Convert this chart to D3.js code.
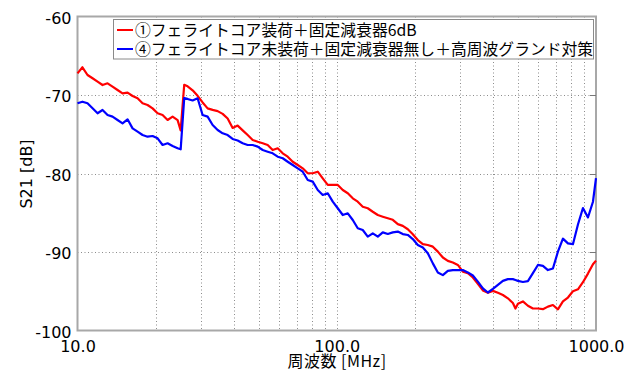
<!DOCTYPE html>
<html><head><meta charset="utf-8">
<script src="https://cdn.jsdelivr.net/npm/d3@7/dist/d3.min.js"></script>
<style>body{margin:0;background:#fff}svg{display:block}</style>
</head><body>
<svg id="chart" width="638" height="371"></svg>
<script>
// ---- data ----
// frequency [MHz]
const freq = [10.0,10.45,10.93,11.43,11.95,12.49,13.06,13.65,14.27,14.92,15.60,16.31,17.05,17.82,18.63,19.48,20.37,21.29,22.26,23.27,24.33,
  25.0,25.8,
  26.59,27.80,29.06,30.38,31.76,33.21,34.72,36.30,37.95,
  39.67,41.47,43.36,45.33,47.39,49.55,51.80,54.15,56.61,59.19,
  61.88,64.69,67.63,70.71,73.92,77.28,80.79,84.47,88.30,92.32,
  96.52,100.9,105.5,110.3,115.3,120.5,126.0,131.7,137.7,144.0,
  150.5,157.4,164.5,172.0,179.8,188.0,196.5,205.4,214.8,224.5,
  234.8,245.4,256.6,268.2,280.4,293.2,306.5,320.4,335.0,350.2,
  366.1,382.8,400.2,418.4,437.4,457.2,478.0,
  489.0,
  499.8,522.5,546.2,571.0,597.0,624.1,652.5,682.1,
  713.1,745.5,779.4,814.8,851.9,890.6,931.1,973.4,
  1000];
// ① S21 [dB]
const series1 = [-67.24,-66.47,-67.45,-67.87,-68.30,-68.73,-68.51,-68.94,-69.36,-69.79,-69.70,-70.13,-70.42,-71.06,-71.27,-71.70,-72.33,-72.55,-73.18,-72.76,-73.2,
  -74.5,-68.7,
  -68.9,-69.4,-70.1,-70.95,-71.7,-71.9,-72.05,-72.4,-73.0,
  -74.2,-73.9,-74.5,-75.1,-75.73,-75.95,-76.15,-76.37,-77.01,-76.79,
  -77.43,-77.86,-78.5,-78.92,-79.34,-79.97,-79.97,-79.77,-80.61,-81.46,
  -81.46,-81.46,-82.1,-82.52,-83.16,-83.59,-84.23,-84.43,-84.87,-85.29,
  -85.5,-85.7,-85.9,-86.45,-86.67,-87.1,-87.73,-88.48,-89.0,-89.11,
  -89.32,-89.95,-90.7,-91.13,-91.34,-91.65,-92.5,-92.71,-93.25,-94.05,
  -94.9,-95.2,-94.95,-95.2,-95.48,-95.9,-96.5,
  -97.2,
  -96.6,-96.3,-96.85,-97.2,-97.2,-97.28,-96.96,-96.75,
  -97.3,-96.3,-95.8,-95.0,-94.75,-93.85,-92.75,-91.55,
  -91.1];
// ④ S21 [dB]
const series2 = [-71.06,-70.85,-71.06,-71.70,-72.33,-71.91,-72.55,-72.76,-73.18,-73.61,-73.10,-74.25,-74.67,-75.10,-75.31,-75.22,-75.52,-76.37,-76.15,-76.50,-76.79,
  -76.92,-70.4,
  -70.5,-70.7,-70.42,-72.55,-72.76,-73.82,-74.46,-74.88,-75.10,
  -75.6,-75.8,-76.15,-76.37,-76.37,-76.58,-77.01,-77.22,-77.43,-77.86,
  -78.06,-78.5,-78.92,-79.34,-79.77,-80.83,-81.04,-82.1,-82.74,-82.52,
  -83.59,-84.43,-85.29,-85.07,-85.92,-86.98,-87.2,-88.05,-87.62,-88.05,
  -87.5,-87.7,-87.5,-87.4,-87.72,-87.83,-88.35,-89.1,-89.42,-90.15,
  -91.45,-92.6,-92.95,-92.4,-92.3,-92.3,-92.3,-92.6,-93.0,-93.78,
  -94.63,-95.16,-94.7,-94.2,-93.68,-93.46,-93.46,
  -93.57,
  -93.68,-93.82,-93.72,-92.7,-91.65,-91.76,-92.3,-92.1,
  -89.96,-88.3,-88.9,-89.0,-86.5,-84.4,-85.6,-83.6,
  -80.6];
const seriesNames = ["①フェライトコア装荷＋固定減衰器6dB","④フェライトコア未装荷＋固定減衰器無し＋高周波グランド対策"];
const seriesColors = ["#ff0000","#0000ff"];
const yTicks = [-100,-90,-80,-70,-60];
const xTicks = [10,100,1000];
const xTickLabels = ["10.0","100.0","1000.0"];
const xGrid = [20,30,40,50,60,70,80,90,100,200,300,400,500,600,700,800,900];
const yGrid = [-90,-80,-70];
const xLabel = "周波数 [MHz]";
const yLabel = "S21 [dB]";

// ---- drawing ----
const svg = d3.select("#chart");
const L=77.5, R=596, T=16.5, B=330.5;
const x = d3.scaleLog().domain([10,1000]).range([L,R]);
const y = d3.scaleLinear().domain([-100,-60]).range([B,T]);

const grid = svg.append("g").attr("stroke","#8c8c8c").attr("stroke-width",1).attr("stroke-dasharray","1,2.5");
grid.selectAll(".vx").data(xGrid).join("line")
  .attr("x1",d=>Math.round(x(d))+0.5).attr("x2",d=>Math.round(x(d))+0.5).attr("y1",T).attr("y2",B);
grid.selectAll(".hy").data(yGrid).join("line")
  .attr("y1",d=>Math.round(y(d))+0.5).attr("y2",d=>Math.round(y(d))+0.5).attr("x1",L).attr("x2",R);

// frame
svg.append("rect").attr("x",L).attr("y",T).attr("width",R-L).attr("height",B-T)
  .attr("fill","none").attr("stroke","#a8a8a8").attr("stroke-width",2);

// inner ticks on the right edge
const tk = svg.append("g").attr("stroke","#777").attr("stroke-width",1);
tk.selectAll(".rt").data(yGrid).join("line")
  .attr("x1",R-6).attr("x2",R).attr("y1",d=>Math.round(y(d))+0.5).attr("y2",d=>Math.round(y(d))+0.5);

// series
const line = d3.line().x(d=>x(d[0])).y(d=>y(d[1]));
[series1, series2].forEach((vals,i)=>{
  const data = freq.map((f,j)=>[f,vals[j]]);
  svg.append("path").datum(data).attr("d",line).attr("fill","none")
    .attr("stroke",seriesColors[i]).attr("stroke-width",2.2).attr("stroke-linejoin","round");
});

// axes labels
const yAxis = svg.append("g").attr("transform",`translate(${L},0)`)
  .call(d3.axisLeft(y).tickValues(yTicks).tickSize(0).tickPadding(6).tickFormat(d=>String(d)));
yAxis.select(".domain").remove();
yAxis.selectAll("text").attr("font-family","DejaVu Sans").attr("font-size",16).attr("fill","#000").attr("dy","0.42em");

const xAxis = svg.append("g").attr("transform",`translate(0,${B})`)
  .call(d3.axisBottom(x).tickValues(xTicks).tickSize(0).tickPadding(10).tickFormat((d,i)=>xTickLabels[i]));
xAxis.select(".domain").remove();
xAxis.selectAll("text").attr("font-family","DejaVu Sans").attr("font-size",16).attr("fill","#000");

svg.append("text").attr("x",337).attr("y",367).attr("text-anchor","middle")
  .attr("font-family","Noto Sans CJK JP").attr("font-size",16).attr("letter-spacing","0.5px").attr("fill","#000").text(xLabel);
svg.append("text").attr("transform","translate(32,174) rotate(-90)").attr("text-anchor","middle")
  .attr("font-family","DejaVu Sans").attr("font-size",16).attr("fill","#000").text(yLabel);

// legend
const lg = svg.append("g");
lg.append("rect").attr("x",113.5).attr("y",19.5).attr("width",480).attr("height",39.5)
  .attr("fill","#fff").attr("stroke","#8a8a8a").attr("stroke-width",1);
seriesNames.forEach((n,i)=>{
  const yy = 30 + i*19;
  lg.append("line").attr("x1",117).attr("x2",133).attr("y1",yy).attr("y2",yy)
    .attr("stroke",seriesColors[i]).attr("stroke-width",2);
  lg.append("text").attr("x",135).attr("y",yy).attr("dy","0.36em")
    .attr("font-family","Noto Sans CJK JP").attr("font-size",15.8).attr("fill","#000").text(n);
});
</script>
</body></html>
